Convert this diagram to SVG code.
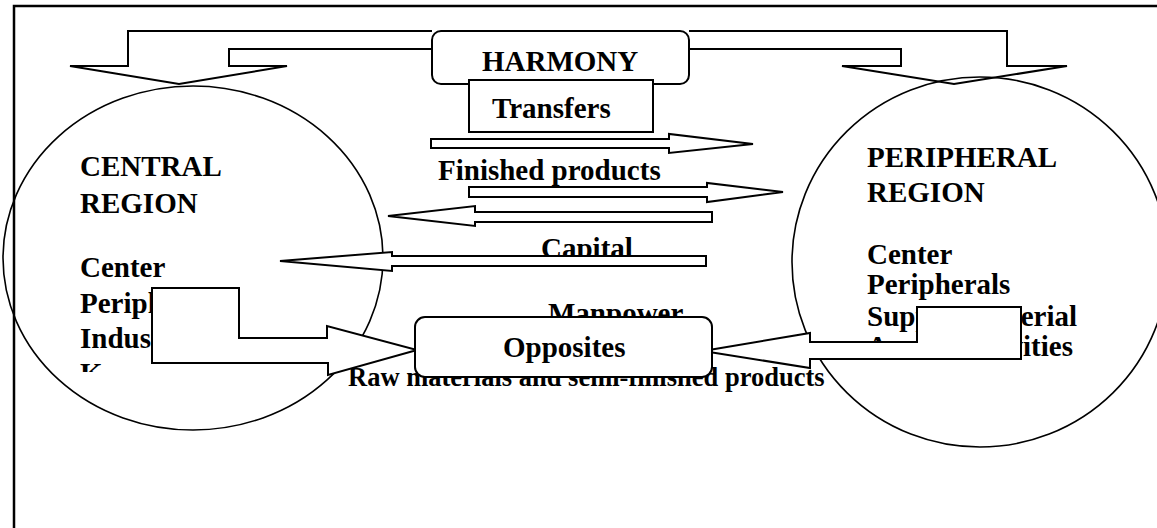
<svg xmlns="http://www.w3.org/2000/svg" width="1157" height="528" viewBox="0 0 1157 528">
<style>
text{font-family:"Liberation Serif","Times New Roman",serif;font-weight:bold;font-size:29px;fill:#000}
.sm{font-size:26.5px}
.ln{fill:none;stroke:#000;stroke-width:2;stroke-linejoin:miter}
.ar{fill:#fff;stroke:#000;stroke-width:2;stroke-linejoin:miter}
.el{fill:none;stroke:#000;stroke-width:1.6}
.bx{fill:#fff;stroke:#000;stroke-width:2}
</style>
<defs>
<clipPath id="kclip"><rect x="0" y="0" width="400" height="372"/></clipPath>
</defs>
<rect id="frame" x="14" y="6" width="1170" height="540" fill="#fff" stroke="#000" stroke-width="2.5"/>
<g id="flow-labels">
<text x="438" y="180">Finished products</text>
<text x="541" y="258">Capital</text>
<text x="548" y="323">Manpower</text>
<text class="sm" x="348" y="386">Raw materials and semi-finished products</text>
</g>
<g id="central-region">
<ellipse class="el" cx="193" cy="258" rx="190" ry="172"/>
<text x="80" y="176">CENTRAL</text>
<text x="80" y="213">REGION</text>
<text x="80" y="277">Center</text>
<text x="80" y="313">Periph</text>
<text x="80" y="348">Indust</text>
<text x="80" y="383" clip-path="url(#kclip)">K</text>
</g>
<g id="peripheral-region">
<ellipse class="el" cx="980" cy="262" rx="188" ry="185"/>
<text x="867" y="167">PERIPHERAL</text>
<text x="867" y="202">REGION</text>
<text x="867" y="264">Center</text>
<text x="867" y="294">Peripherals</text>
<text x="867" y="326">Supp</text>
<text x="1077" y="326" text-anchor="end">terial</text>
<text x="867" y="356">A</text>
<text x="1073" y="356" text-anchor="end">vities</text>
</g>
<g id="connectors">
<path class="ln" d="M432,31 H128 V66 H70 L179,84 L287,66 H229 V49 H432"/>
<path class="ln" d="M689,31 H1007 V66 H1067 L954,84 L842,66 H901 V49 H689"/>
<polygon class="ar" points="431,139 669,139 669,134 753,144 669,153 669,148 431,148"/>
<polygon class="ar" points="469,187 707,187 707,183 783,192 707,202 707,197 469,197"/>
<polygon class="ar" points="712,212 475,212 475,206 388,216 475,226 475,222 712,222"/>
<polygon class="ar" points="706,256 392,256 392,252 280,261 392,271 392,266 706,266"/>
<polygon class="ar" points="152,288 239,288 239,338 327,338 327,326 417,350 328,375 328,363 152,363"/>
<polygon class="ar" points="1021,307 917,307 917,342 810,342 810,333 703,351 810,368 810,359 1021,359"/>
</g>
<g id="harmony">
<rect class="bx" x="432" y="31" width="257" height="53" rx="9"/>
<text x="482" y="71">HARMONY</text>
</g>
<g id="transfers">
<rect class="bx" x="469" y="80" width="184" height="52"/>
<text x="492" y="118">Transfers</text>
</g>
<g id="opposites">
<rect class="bx" x="415" y="317" width="297" height="60" rx="10"/>
<text x="503" y="357">Opposites</text>
</g>
</svg>
